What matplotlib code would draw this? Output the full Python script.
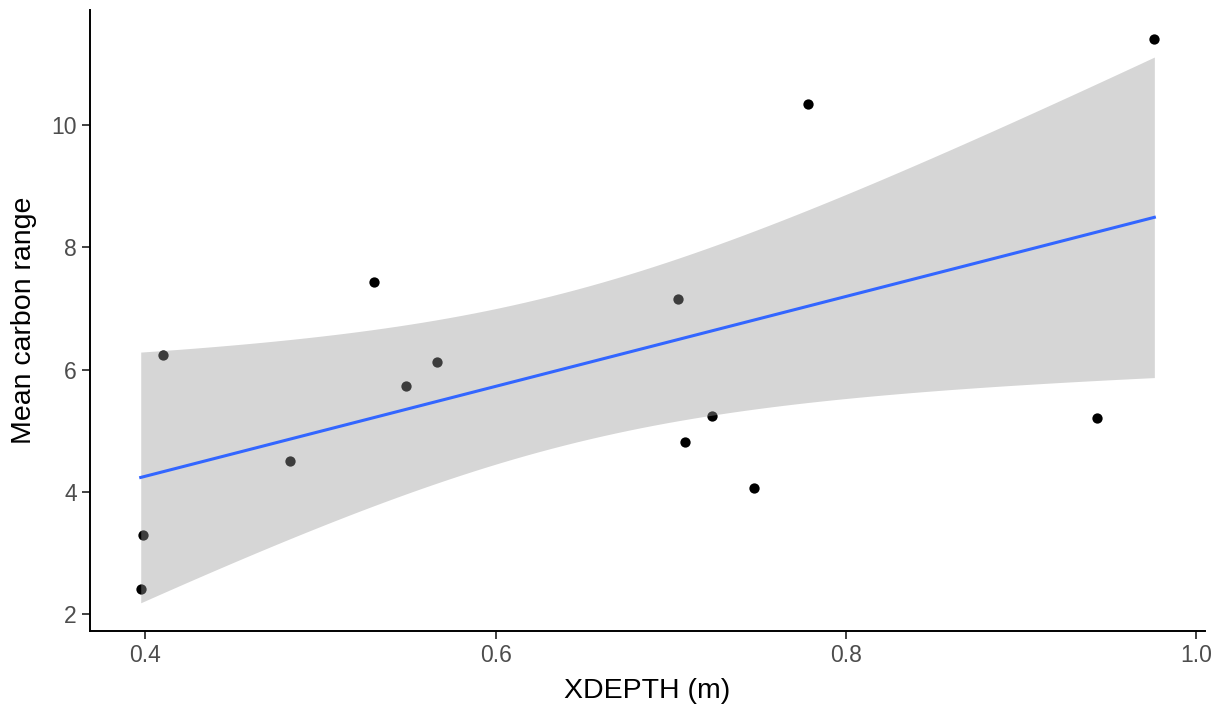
import numpy as np
import matplotlib
matplotlib.use('Agg')
import matplotlib.pyplot as plt

plt.rcParams['font.family'] = ['Liberation Sans', 'DejaVu Sans']

# data
xdepth = [0.3973, 0.3988, 0.4100, 0.4826, 0.5303, 0.5485, 0.5667,
          0.7043, 0.7078, 0.7236, 0.7473, 0.7782, 0.9432, 0.9760]
carbon = [2.41, 3.29, 6.24, 4.51, 7.43, 5.73, 6.12,
          7.16, 4.81, 5.24, 4.07, 10.34, 5.21, 11.41]
x_ticks = [0.4, 0.6, 0.8, 1.0]
x_tick_labels = ['0.4', '0.6', '0.8', '1.0']
y_ticks = [2, 4, 6, 8, 10]

x = np.array(xdepth)
y = np.array(carbon)

# lm fit + 95% CI, like geom_smooth(method='lm')
n = len(x)
slope, icpt = np.polyfit(x, y, 1)
resid = y - (icpt + slope*x)
s = np.sqrt(np.sum(resid**2)/(n-2))
xx = np.linspace(x.min(), x.max(), 80)
yy = icpt + slope*xx
t975 = 2.1788  # t quantile, df = 12
se = s*np.sqrt(1.0/n + (xx - x.mean())**2/np.sum((x - x.mean())**2))
lo = yy - t975*se
hi = yy + t975*se

fig = plt.figure(figsize=(12.25, 7.13), dpi=100)
ax = fig.add_axes([0.0735, 0.115, 0.9102, 0.8703])

ax.scatter(x, y, s=55, color='black', zorder=2, linewidths=0)
ax.fill_between(xx, lo, hi, color='#999999', alpha=0.4, linewidth=0, zorder=3)
ax.plot(xx, yy, color='#3366FF', lw=2.2, zorder=4)

# ggplot style expansion (5%)
xr = x.max() - x.min()
ax.set_xlim(x.min() - 0.05*xr, x.max() + 0.05*xr)
ymin = min(y.min(), lo.min())
ymax = max(y.max(), hi.max())
yr = ymax - ymin
ax.set_ylim(ymin - 0.05*yr, ymax + 0.05*yr)

ax.set_xticks(x_ticks)
ax.set_xticklabels(x_tick_labels)
ax.set_yticks(y_ticks)

for side in ['top', 'right']:
    ax.spines[side].set_visible(False)
for side in ['left', 'bottom']:
    ax.spines[side].set_linewidth(1.4)
    ax.spines[side].set_color('black')

ax.tick_params(axis='both', length=5.5, width=1.3, color='#333333',
               labelsize=16.5, labelcolor='#4D4D4D', pad=4)

ax.set_xlabel('XDEPTH (m)', fontsize=20.5, color='black', labelpad=8)
ax.set_ylabel('Mean carbon range', fontsize=20.5, color='black', labelpad=10)

fig.savefig('out.png', dpi=100)
